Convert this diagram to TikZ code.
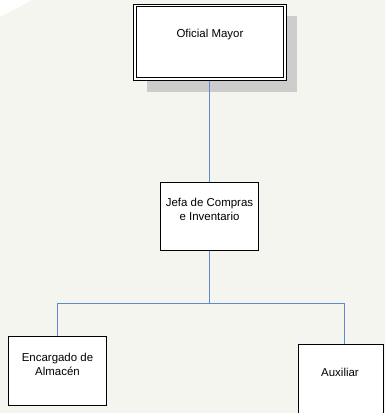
\documentclass[tikz,border=0pt]{standalone}
\usepackage{fontspec}
\setmainfont{Liberation Sans}
\definecolor{bgc}{RGB}{244,245,239}
\definecolor{linec}{RGB}{95,135,210}
\definecolor{shadowc}{RGB}{204,204,204}
\tikzset{
  box/.style={draw=black, line width=1bp, fill=white, align=center, font=\fontsize{11.5}{13.5}\selectfont, inner sep=0pt},
  lbl/.style={align=center, font=\fontsize{11.5}{13.5}\selectfont, inner sep=0pt},
  conn/.style={draw=linec, line width=1bp}
}
\begin{document}
\begin{tikzpicture}[x=1bp,y=-1bp]
\fill[bgc] (0,0) rectangle (385,413);
\useasboundingbox (0,0) rectangle (385,413);
\fill[white] (0,0) -- (32,0) -- (0,17) -- cycle;
% shadow of top box
\fill[shadowc] (147,16) rectangle (297,92);
% top box with double border
\node[box, minimum width=152bp, minimum height=76bp] (om) at (210,42) {};
\draw[black, line width=1bp] (136.5,6.5) rectangle (283.5,77.5);
\node[lbl] (omt) at (210,35) {Oficial Mayor};
\node[box, minimum width=97bp, minimum height=68bp] (jc) at (209.5,216) {};
\node[lbl] (jct) at (209.5,209.5) {Jefa de Compras\\e Inventario};
\node[box, minimum width=98bp, minimum height=69bp] (ea) at (57.5,370.5) {};
\node[lbl] (eat) at (57.5,364.5) {Encargado de\\Almac\'en};
\node[box, minimum width=85bp, minimum height=69bp, anchor=north west] (au) at (297.5,343.5) {};
\node[lbl] (aut) at (340,372) {Auxiliar};
\coordinate (bus) at (209.5,303.5);
\draw[conn] (om.south -| jc.north) -- (jc.north);
\draw[conn] (jc.south) -- (bus);
\draw[conn] (ea.north) |- (bus) -| ([xshift=4bp]au.north);
\end{tikzpicture}
\end{document}
